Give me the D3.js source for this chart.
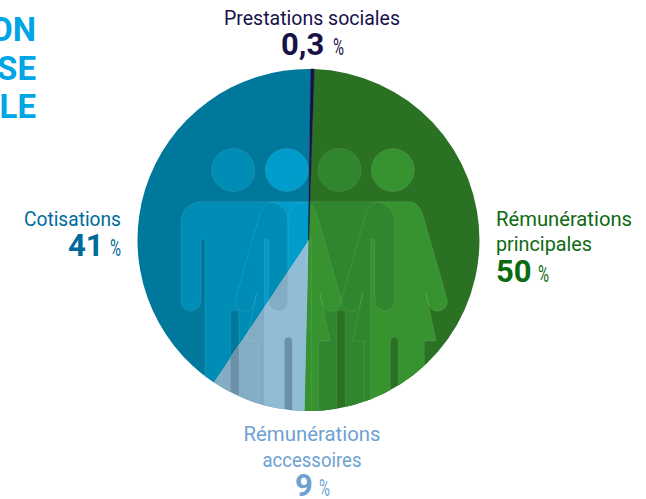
<!DOCTYPE html>
<html>
<head>
<meta charset="utf-8">
<script src="https://cdn.jsdelivr.net/npm/d3@7"></script>
<style>
  body { margin: 0; background: #fff; }
  svg { display: block; }
  text { font-family: Roboto, sans-serif; }
  .value { font-weight: 700; }
</style>
</head>
<body>
<svg id="chart" width="646" height="499"></svg>
<script>
// pie data, clockwise from the top
var categories = ["Prestations sociales", "Rémunérations principales", "Rémunérations accessoires", "Cotisations"];
var values = [0.3, 50, 9, 41];
var valueLabels = ["0,3", "50", "9", "41"];
var sliceColors = ["#17104a", "#2a7124", "#6b91a8", "#00789c"];
var labelColors = ["#17124a", "#0d6a10", "#6ea1d2", "#006a9c"];
// pictogram tints per slice (null = no figures on that slice)
var manColors = [null, "#2f862e", "#83adc5", "#008db5"];
var womanColors = [null, "#36932f", "#90bcd6", "#009ccc"];
var titleLines = ["ON", "SE", "ALE"];

var svg = d3.select("#chart"),
    cx = 308.5,
    cy = 240,
    radius = 171,
    startDeg = 0.8;

// 3.6 degrees per percent: the rounded values add up to 100.3
var pie = d3.pie()
    .sort(null)
    .startAngle(startDeg * Math.PI / 180)
    .endAngle((startDeg + 3.6 * d3.sum(values)) * Math.PI / 180);

var arc = d3.arc().innerRadius(0).outerRadius(radius);
var arcs = pie(values);

// title, cut off by the left edge as in the source
svg.append("g").selectAll("text")
    .data(titleLines)
    .enter().append("text")
      .attr("x", 36)
      .attr("y", function(d, i) { return 41 + i * 38.5; })
      .attr("text-anchor", "end")
      .attr("font-size", 33)
      .attr("font-weight", 700)
      .attr("fill", "#00a5e6")
      .text(function(d) { return d; });

var gPie = svg.append("g").attr("transform", "translate(" + cx + "," + cy + ")");

gPie.selectAll("path.slice")
    .data(arcs)
    .enter().append("path")
      .attr("class", "slice")
      .attr("d", arc)
      .attr("fill", function(d, i) { return sliceColors[i]; });

var defs = svg.append("defs");
arcs.forEach(function(d, i) {
  defs.append("clipPath").attr("id", "clip" + i)
    .append("path").attr("d", arc(d));
});

// pictograms, origin on the figure's axis, y from the pie centre
var figTop = 201.7 - cy;

function manPath() {
  var y0 = figTop, hand = 311 - cy, gap = 238 - cy, legGap = 310 - cy, foot = 430 - cy;
  return "M-53.7," + (y0 + 20) + " A20,20 0 0 1 -33.7," + y0 +
      " H33.7 A20,20 0 0 1 53.7," + (y0 + 20) +
      " V" + (hand - 9.9) + " A9.9,9.9 0 0 1 33.9," + (hand - 9.9) +
      " V" + (gap + 2.2) + " A2.2,2.2 0 0 0 29.7," + (gap + 2.2) +
      " V" + foot + " H4.3 V" + (legGap + 4.3) + " A4.3,4.3 0 0 0 -4.3," + (legGap + 4.3) +
      " V" + foot + " H-29.7 V" + (gap + 2.2) + " A2.2,2.2 0 0 0 -33.9," + (gap + 2.2) +
      " V" + (hand - 9.9) + " A9.9,9.9 0 0 1 -53.7," + (hand - 9.9) + " Z";
}

function womanPath() {
  var y0 = figTop, hem = 341 - cy, legGap = 337.3 - cy, foot = 430 - cy, wrist = 300 - cy;
  var right = "C22," + y0 + " 26," + (y0 + 6) + " 28.3," + (y0 + 12) +
      " L53," + wrist + " A9.8,9.8 0 0 1 33.6," + (wrist + 3) +
      " L31.7," + (293.3 - cy) + " L41.7," + hem + " H30 V" + foot + " H4" +
      " V" + (legGap + 4) + " A4,4 0 0 0 -4," + (legGap + 4) +
      " V" + foot + " H-30 V" + hem + " H-41.7 L-31.7," + (293.3 - cy) +
      " L-33.6," + (wrist + 3) + " A9.8,9.8 0 0 1 -53," + wrist +
      " L-28.3," + (y0 + 12) + " C-26," + (y0 + 6) + " -22," + y0 + " -15," + y0 + " Z";
  return "M-15," + y0 + " H15 " + right;
}

// back to front, so the man's arm lies over his neighbour's dress
var figures = [
  {type: "woman", x: 394.3 - cx},
  {type: "man", x: 341 - cx},
  {type: "woman", x: 288.3 - cx},
  {type: "man", x: 234.7 - cx}
];
var headR = 21.5, headY = 170 - cy;

arcs.forEach(function(d, i) {
  if (!manColors[i]) return;
  var g = gPie.append("g").attr("clip-path", "url(#clip" + i + ")");
  figures.forEach(function(f) {
    var fill = f.type == "man" ? manColors[i] : womanColors[i];
    var fig = g.append("g").attr("transform", "translate(" + f.x + ",0)");
    fig.append("path")
        .attr("d", f.type == "man" ? manPath() : womanPath())
        .attr("fill", fill);
    fig.append("circle")
        .attr("cx", -1.5)
        .attr("cy", headY)
        .attr("r", headR)
        .attr("fill", fill);
  });
  // thin light outlines show through all the figures
  figures.forEach(function(f) {
    var fig = g.append("g")
        .attr("transform", "translate(" + f.x + ",0)")
        .attr("fill", "none")
        .attr("stroke", "#fff")
        .attr("stroke-opacity", 0.16)
        .attr("stroke-width", 0.6);
    fig.append("path").attr("d", f.type == "man" ? manPath() : womanPath());
    fig.append("circle")
        .attr("cx", -1.5)
        .attr("cy", headY)
        .attr("r", headR);
  });
});

// the thin slice goes on top again
gPie.append("path")
    .attr("d", arc(arcs[0]))
    .attr("fill", sliceColors[0])
    .attr("stroke", sliceColors[0])
    .attr("stroke-width", 0.6);

// labels: text lines with their measured widths, value and their anchor
var labelLayout = [
  {lines: ["Prestations sociales"], w: [176], x: 312, y: [25], anchor: "middle", valueX: 281, valueY: 55, pctX: 333},
  {lines: ["Rémunérations", "principales"], w: [136, 96], x: 496, y: [226, 251], anchor: "start", valueX: 496, valueY: 282, pctX: 538},
  {lines: ["Rémunérations", "accessoires"], w: [137, 99], x: 312, y: [441, 467], anchor: "middle", valueX: 295, valueY: 496, pctX: 319},
  {lines: ["Cotisations"], w: [97], x: 121, y: [226], anchor: "end", valueX: 68, valueY: 256, pctX: 110}
];

var labels = svg.append("g").selectAll("g")
    .data(labelLayout)
    .enter().append("g")
      .attr("fill", function(d, i) { return labelColors[i]; });

labels.each(function(d, i) {
  var g = d3.select(this);
  d.lines.forEach(function(line, j) {
    g.append("text")
        .attr("x", d.x)
        .attr("y", d.y[j])
        .attr("text-anchor", d.anchor)
        .attr("font-size", 20)
        .attr("textLength", d.w[j])
        .attr("lengthAdjust", "spacingAndGlyphs")
        .text(line);
  });
  g.append("text")
      .attr("class", "value")
      .attr("x", d.valueX)
      .attr("y", d.valueY)
      .attr("font-size", 31)
      .text(valueLabels[i]);
  g.append("text")
      .attr("x", d.pctX)
      .attr("y", d.valueY)
      .attr("font-size", 23)
      .attr("textLength", 11)
      .attr("lengthAdjust", "spacingAndGlyphs")
      .text("%");
});
</script>
</body>
</html>
